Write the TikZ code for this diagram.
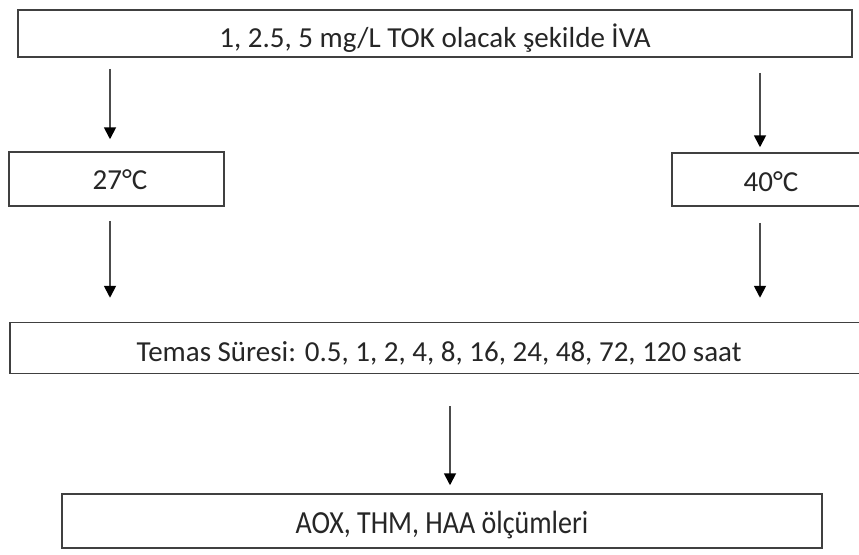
\documentclass[tikz,border=0pt]{standalone}
\usepackage{fontspec}
\setmainfont{Carlito}
\usetikzlibrary{arrows.meta}
\begin{document}
\begin{tikzpicture}[x=1pt,y=-1pt,
  box/.style={draw=black!75,line width=1.5pt,rectangle,inner sep=0pt,
    font=\fontsize{29}{32}\selectfont,text=black!85,text depth=0pt},
  arr/.style={draw=black!70,line width=1.8pt,
    -{Triangle[length=12pt,width=12pt,fill=black,color=black]}}]
\useasboundingbox (0,0) rectangle (859,554);
\fill[white] (0,0) rectangle (859,554);

% process boxes
\node[box,text height=27pt,minimum width=834pt,minimum height=47pt] (top) at (435,33.5) {1, 2.5, 5 mg/L TOK olacak şekilde İVA};
\node[box,text height=20pt,minimum width=215pt,minimum height=54pt] (c27) at (116.5,179) {\hspace*{7pt}27°C};
\node[box,text height=24pt,minimum width=198pt,minimum height=53pt] (c40) at (771,179.5) {40°C};
\node[box,text height=27pt,minimum width=858pt,minimum height=51pt] (temas) at (439,348) {Temas Süresi: 0.5, 1, 2, 4, 8, 16, 24, 48, 72, 120 saat};
\node[box,font=\fontsize{28}{32}\selectfont,text height=24pt,minimum width=760pt,minimum height=54pt] (aox) at (442,521) {\scalebox{1}[1.15]{AOX, THM, HAA ölçümleri}};

% connectors
\draw[arr,shorten <=11pt,shorten >=12pt] (top.south -| 110,0) -- (c27.north -| 110,0);
\draw[arr,shorten <=15pt,shorten >=5pt] (top.south -| 760,0) -- (c40.north -| 760,0);
\draw[arr,shorten <=14pt,shorten >=24pt] (c27.south -| 110,0) -- (temas.north -| 110,0);
\draw[arr,shorten <=16pt,shorten >=24pt] (c40.south -| 760,0) -- (temas.north -| 760,0);
\draw[arr,shorten <=32pt,shorten >=8pt] (temas.south -| 450,0) -- (aox.north -| 450,0);
\end{tikzpicture}
\end{document}
